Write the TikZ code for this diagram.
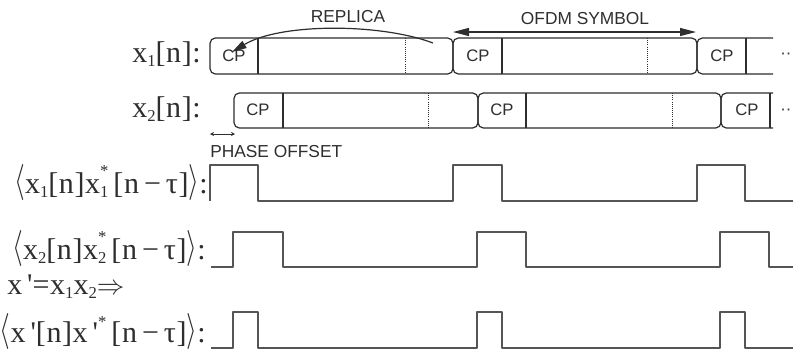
\documentclass[tikz,border=0pt]{standalone}
\usepackage{fontspec}
\setmainfont{Liberation Sans}
\newfontfamily\lblfont[LetterSpace=2]{Liberation Serif}
\usetikzlibrary{arrows.meta}
\definecolor{ink}{HTML}{2E2E2E}
\definecolor{wave}{HTML}{555555}
\newcommand\lsub[1]{\raisebox{-0.15em}{\fontsize{12.5}{13}\selectfont #1}}
\newcommand\lsubsup[2]{\rlap{\raisebox{-0.15em}{\fontsize{12.5}{13}\selectfont #1}}\raisebox{0.55em}{\fontsize{12.5}{13}\selectfont #2}\,}
\newcommand\lang{\raisebox{1.5pt}{\scalebox{1}[1.3]{$\langle$}}}
\newcommand\rang{\raisebox{1.5pt}{\scalebox{1}[1.3]{$\rangle$}}}
\begin{document}
\begin{tikzpicture}[x=0.75pt,y=-0.75pt, line join=round,
  sym/.style={draw=ink, line width=0.9pt, rounded corners=4pt},
  cpline/.style={draw=ink, line width=0.9pt},
  dotline/.style={draw=ink, line width=0.6pt, densely dotted},
  cptext/.style={font=\fontsize{12.5}{14}\selectfont, text=ink, inner sep=0},
  captext/.style={font=\fontsize{13}{15}\selectfont, text=ink, inner sep=0},
  lbl/.style={font=\lblfont\fontsize{22.5}{26}\selectfont, text=ink, inner sep=0, anchor=base east},
  wavef/.style={draw=wave, line width=1.1pt},
  bigarrow/.style={draw=ink, line width=0.9pt, {Triangle[length=12pt,width=6pt]}-{Triangle[length=12pt,width=6pt]}},
  reparrow/.style={draw=ink, line width=0.9pt, -{Triangle[length=11pt,width=6pt]}},
  smallarrow/.style={draw=ink, line width=0.6pt, {Stealth[length=3pt,width=3pt]}-{Stealth[length=3pt,width=3pt]}}]
\useasboundingbox (0,0) rectangle (796,355);
\fill[white] (0,0) rectangle (796,355);

% x1 row
\draw[sym] (210,38) rectangle (453,74);
\draw[sym] (453,38) rectangle (697,74);
\draw[sym] (773,38) -- (697,38) -- (697,74) -- (773,74);
\draw[cpline] (258,38) -- (258,74);
\draw[cpline] (502,38) -- (502,74);
\draw[cpline] (746,38) -- (746,74);
\draw[dotline] (405,38) -- (405,74);
\draw[dotline] (647,38) -- (647,74);
\node[cptext] (cp11) at (234,56) {CP};
\node[cptext] (cp12) at (478,56) {CP};
\node[cptext] (cp13) at (722,56) {CP};
\node[cptext, anchor=west] (dots1) at (780,56) {··};

% x2 row
\draw[sym] (234,93) rectangle (478,128);
\draw[sym] (478,93) rectangle (721,128);
\draw[sym] (773,93) -- (721,93) -- (721,128) -- (773,128);
\draw[cpline] (283,93) -- (283,128);
\draw[cpline] (526,93) -- (526,128);
\draw[cpline] (770,93) -- (770,128);
\draw[dotline] (428,93) -- (428,128);
\draw[dotline] (672,93) -- (672,128);
\node[cptext] (cp21) at (258,110) {CP};
\node[cptext] (cp22) at (502,110) {CP};
\node[cptext] (cp23) at (747,110) {CP};
\node[cptext, anchor=west] (dots2) at (780,112) {··};

% labels of rows
\node[lbl] (lx1) at (201,62) {x\lsub{1}[n]:};
\node[lbl] (lx2) at (201,117) {x\lsub{2}[n]:};

% replica arrow
\coordinate (repS) at (433,43);
\coordinate (repE) at (232,52);
\draw[reparrow] (repS) .. controls (380,23) and (280,23) .. (repE);
\node[captext, anchor=base] (replica) at (348,22) {REPLICA};

% OFDM symbol arrow
\coordinate (ofdmL) at (453,32);
\coordinate (ofdmR) at (696,32);
\draw[bigarrow] (ofdmL) -- (ofdmR);
\node[captext, anchor=base] (ofdm) at (585,24) {OFDM SYMBOL};

% phase offset
\coordinate (phL) at (210,134);
\coordinate (phR) at (235,134);
\draw[smallarrow] (phL) -- (phR);
\node[captext, anchor=base west] (phase) at (210,157) {PHASE OFFSET};

% correlation labels
\node[lbl] (c1) at (208,193) {\lang x\lsub{1}[n]x\lsubsup{1}{*}[n\,−\,τ]\rang:};
\node[lbl] (c2) at (206,259) {\lang x\lsub{2}[n]x\lsubsup{2}{*}[n\,−\,τ]\rang:};
\node[lbl, anchor=base west] (eq) at (7,294) {x\,\textquotesingle=x\lsub{1}x\lsub{2}$\Rightarrow$};
\node[lbl] (c3) at (206,342) {\lang x\,\textquotesingle[n]x\,\textquotesingle\raisebox{0.5em}{\fontsize{12.5}{13}\selectfont *}\,[n\,−\,τ]\rang:};

% waveforms
\draw[wavef] (210,201) -- (210,165) -- (258,165) -- (258,201) -- (453,201) -- (453,165) -- (502,165) -- (502,201) -- (697,201) -- (697,165) -- (745,165) -- (745,201) -- (793,201);
\draw[wavef] (211,267) -- (233,267) -- (233,232) -- (283,232) -- (283,267) -- (477,267) -- (477,232) -- (526,232) -- (526,267) -- (720,267) -- (720,232) -- (769,232) -- (769,267) -- (793,267);
\draw[wavef] (211,348) -- (233,348) -- (233,312) -- (258,312) -- (258,348) -- (477,348) -- (477,312) -- (502,312) -- (502,348) -- (720,348) -- (720,312) -- (745,312) -- (745,348) -- (793,348);
\end{tikzpicture}
\end{document}
